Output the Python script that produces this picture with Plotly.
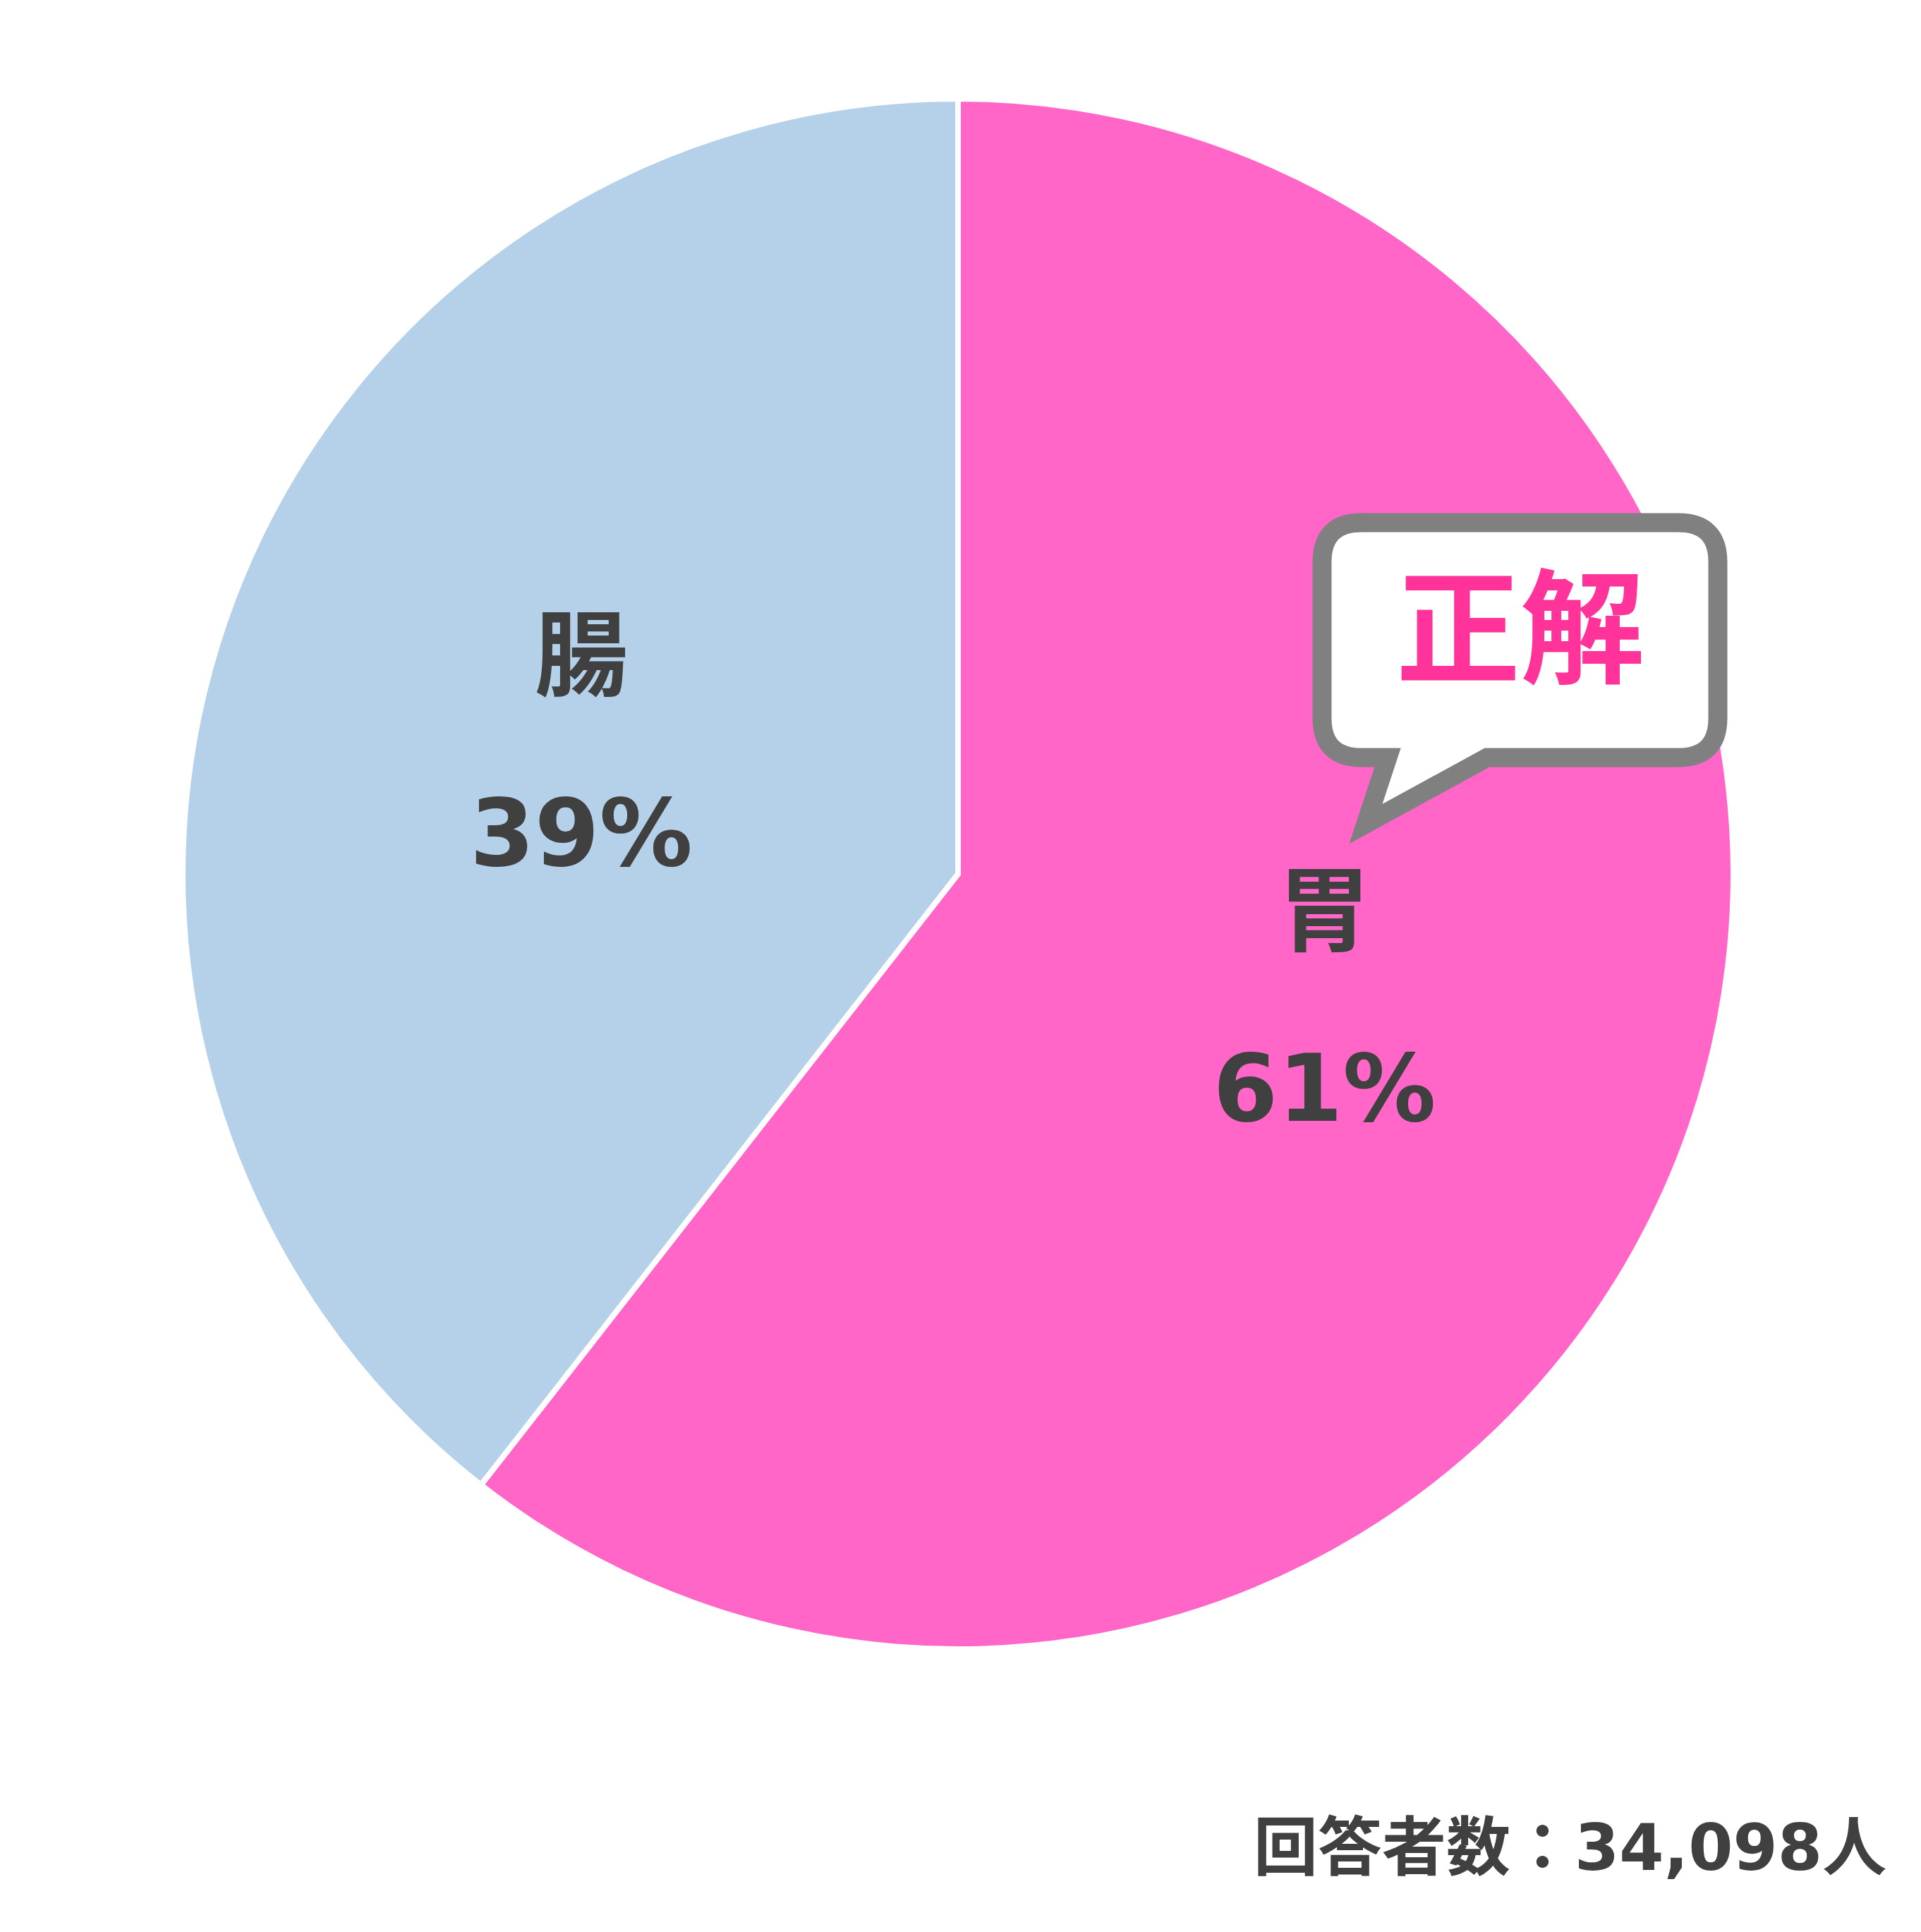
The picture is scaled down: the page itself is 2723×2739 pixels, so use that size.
import plotly.graph_objects as go

# chart values
labels = ["胃", "腸"]
shares = [60.55, 39.45]          # slice sizes as drawn
pct_labels = ["61%", "39%"]      # rounded figures printed on the slices
colors = ["#FF66C8", "#B5D1E9"]
respondents = "34,098"
answer_tag = "正解"

W, H = 2723, 2739


def px(x):
    return x / W


def py(y):
    return 1 - y / H


def bubble_path(left, right, top, bottom, r, tail):
    """Speech bubble outline in pixel coords -> paper path string."""
    bx_r, bx_l, tip = tail
    pts = [
        ("M", [(left + r, top)]),
        ("L", [(right - r, top)]),
        ("Q", [(right, top), (right, top + r)]),
        ("L", [(right, bottom - r)]),
        ("Q", [(right, bottom), (right - r, bottom)]),
        ("L", [(bx_r, bottom)]),
        ("L", [tip]),
        ("L", [(bx_l, bottom)]),
        ("L", [(left + r, bottom)]),
        ("Q", [(left, bottom), (left, bottom - r)]),
        ("L", [(left, top + r)]),
        ("Q", [(left, top), (left + r, top)]),
    ]
    out = []
    for cmd, coords in pts:
        out.append(cmd + " ".join(f"{px(x):.5f},{py(y):.5f}" for x, y in coords))
    return " ".join(out) + " Z"


texts = [
    f"<span style='font-size:132px'>{lab}</span><br><span style='font-size:132px'>{p}</span>"
    for lab, p in zip(labels, pct_labels)
]

cx, cy, rad = 1350, 1231, 1099

fig = go.Figure()
fig.add_trace(go.Pie(
    labels=labels,
    values=shares,
    text=texts,
    textinfo="text",
    textposition="inside",
    insidetextorientation="horizontal",
    sort=False,
    direction="clockwise",
    rotation=0,
    marker=dict(colors=colors, line=dict(color="white", width=8)),
    textfont=dict(family="DejaVu Sans, Noto Sans CJK JP", size=193, color="#404040", weight="bold"),
    hoverinfo="none",
    showlegend=False,
    domain=dict(x=[(cx - rad) / W, (cx + rad) / W],
                y=[(H - cy - rad) / H, (H - cy + rad) / H]),
))

fig.add_shape(
    type="path",
    xref="paper", yref="paper",
    path=bubble_path(1866, 2427, 733, 1066, 56, (2100, 1959, (1928, 1160))),
    fillcolor="white",
    line=dict(color="#808080", width=27),
    layer="above",
)

fig.add_annotation(
    x=px(2147), y=py(870), xref="paper", yref="paper",
    text=answer_tag, showarrow=False,
    font=dict(family="Noto Sans CJK JP", size=176, color="#FF3399", weight="bold"),
    xanchor="center", yanchor="middle",
)

fig.add_annotation(
    x=px(2668), y=py(2611), xref="paper", yref="paper",
    text=f"回答者数：{respondents}人", showarrow=False,
    font=dict(family="DejaVu Sans, Noto Sans CJK JP", size=91, color="#404040", weight="bold"),
    xanchor="right", yanchor="middle",
)

fig.update_layout(
    width=W, height=H,
    margin=dict(l=0, r=0, t=0, b=0),
    paper_bgcolor="white",
    plot_bgcolor="white",
)

fig.write_html("out.html")
